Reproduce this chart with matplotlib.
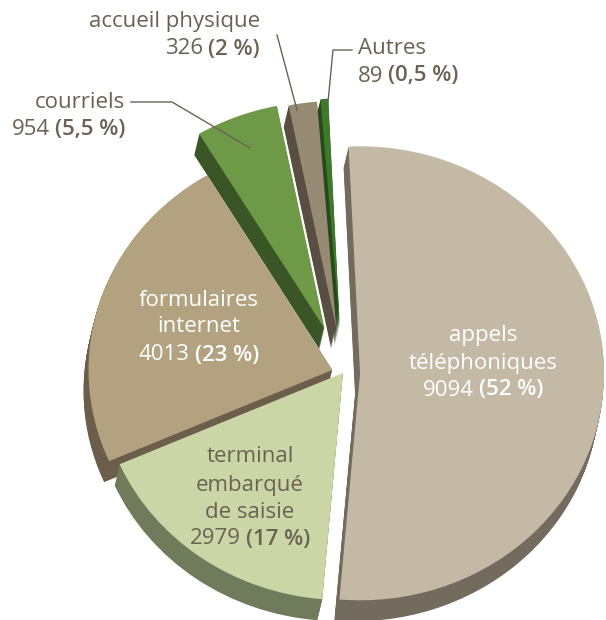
import matplotlib
matplotlib.use("Agg")
import matplotlib.pyplot as plt
from matplotlib.transforms import offset_copy

# data
names = ["appels téléphoniques", "terminal embarqué de saisie", "formulaires internet",
         "courriels", "accueil physique", "Autres"]
counts = [9094, 2979, 4013, 954, 326, 89]
shares = ["52 %", "17 %", "23 %", "5,5 %", "2 %", "0,5 %"]

top_colors = ["#c4b9a5", "#cad6a6", "#b3a280", "#6e9a48", "#978a72", "#3f7a2c"]
side_colors = ["#746b5f", "#6f7b5b", "#6b5f4b", "#3b5626", "#584e41", "#264a1a"]
explode = [0.07, 0.0, 0.045, 0.21, 0.2, 0.21]

TXT = "#6b6252"
FONT = "Open Sans"
FS = 16

fig = plt.figure(figsize=(6.06, 6.2), dpi=100)
ax = fig.add_axes([0, 0, 1, 1])

# pie centre / radii in pixels (picture is a squashed 3D pie)
CX, CY, RX, RY = 343, 373, 244, 227


def px(x, y):
    return (x - CX) / RX, (CY - y) / RY


# extruded side: stack of darker pies shifted down-left
depth_x, depth_y = -5 / RX, -21 / RY
steps = 24
for k in range(steps, 0, -1):
    ax.pie(counts, explode=explode, colors=side_colors, startangle=92.7,
           counterclock=False, center=(depth_x * k / steps, depth_y * k / steps),
           wedgeprops=dict(linewidth=0))
ax.pie(counts, explode=explode, colors=top_colors, startangle=92.7,
       counterclock=False, wedgeprops=dict(linewidth=0))

ax.set_aspect("auto")
ax.set_xlim(-CX / RX, (606 - CX) / RX)
ax.set_ylim((CY - 620) / RY, CY / RY)
ax.axis("off")

renderer = fig.canvas.get_renderer()


def plain(x, y, s, ha, color):
    ax.text(*px(x, y), s, ha=ha, va="center", color=color, fontsize=FS, family=FONT)


def mixed(x, y, normal, bold, ha, color):
    t1 = ax.text(*px(x, y), normal, ha="left", va="center", color=color,
                 fontsize=FS, family=FONT)
    t2 = ax.text(*px(x, y), "(" + bold + ")", ha="left", va="center", color=color,
                 fontsize=FS, family=FONT, fontweight="semibold")
    w1 = t1.get_window_extent(renderer).width
    w2 = t2.get_window_extent(renderer).width
    gap = 5
    total = w1 + gap + w2
    shift = {"left": 0, "center": -total / 2, "right": -total}[ha]
    t1.set_transform(offset_copy(ax.transData, fig=fig, x=shift, y=0, units="dots"))
    t2.set_transform(offset_copy(ax.transData, fig=fig, x=shift + w1 + gap, y=0, units="dots"))


def leader(points):
    xs, ys = zip(*[px(a, b) for a, b in points])
    ax.plot(xs, ys, color=TXT, lw=1)


# labels inside the pie
plain(483, 336, "appels", "center", "white")
plain(483, 363, "téléphoniques", "center", "white")
mixed(483, 390, str(counts[0]), shares[0], "center", "white")

plain(199, 300, "formulaires", "center", "white")
plain(199, 327, "internet", "center", "white")
mixed(199, 355, str(counts[2]), shares[2], "center", "white")

plain(250, 457, "terminal", "center", TXT)
plain(250, 485, "embarqué", "center", TXT)
plain(250, 512, "de saisie", "center", TXT)
mixed(250, 539, str(counts[1]), shares[1], "center", TXT)

# labels outside with leader lines
plain(260, 22, "accueil physique", "right", TXT)
mixed(260, 49, str(counts[4]), shares[4], "right", TXT)
leader([(277, 35), (297, 110)])

plain(358, 48, "Autres", "left", TXT)
mixed(358, 76, str(counts[5]), shares[5], "left", TXT)
leader([(352, 50), (333, 50), (328, 102)])

plain(125, 102, "courriels", "right", TXT)
mixed(125, 130, str(counts[3]), shares[3], "right", TXT)
leader([(131, 102), (172, 102), (250, 148)])

fig.savefig("out.png", dpi=100)
